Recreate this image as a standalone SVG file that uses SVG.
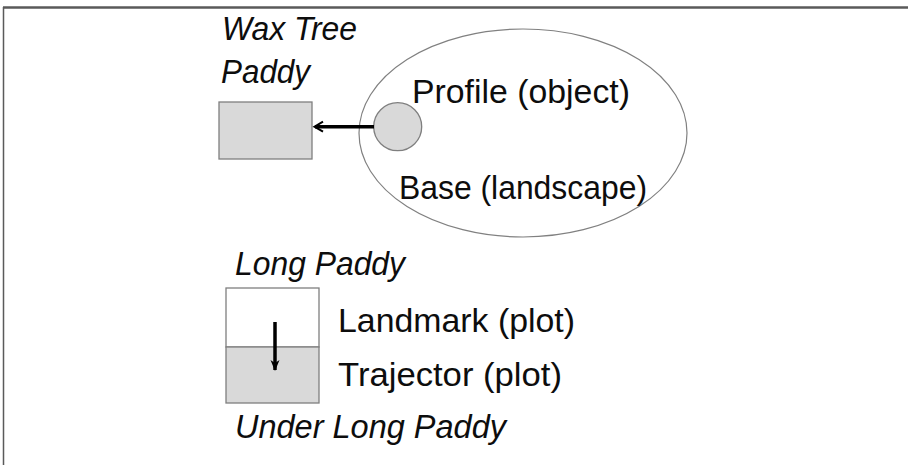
<svg xmlns="http://www.w3.org/2000/svg" width="908" height="465" viewBox="0 0 908 465">
<style>
.t{font-family:"Liberation Sans",Arial,sans-serif;font-size:34px;fill:#0d0d0d}
.i{font-style:italic;font-size:33px}
.box{fill:#d9d9d9;stroke:#7f7f7f;stroke-width:1.3}
.frame{stroke:#5a5a5a;fill:none}
.conn{stroke:#000;stroke-width:3.5;fill:none}
</style>
<defs>
<marker id="open" markerWidth="14" markerHeight="14" refX="11" refY="7" orient="auto" markerUnits="userSpaceOnUse">
<path d="M3,2 L11.5,7 L3,12" fill="none" stroke="#000" stroke-width="2"/>
</marker>
<marker id="down" markerWidth="14" markerHeight="14" refX="11" refY="7" orient="auto" markerUnits="userSpaceOnUse">
<path d="M1,2.5 L12,7 L1,11.5 L4,7 Z" fill="#000"/>
</marker>
</defs>
<rect width="908" height="465" fill="#fff"/>
<g id="frame">
<line class="frame" x1="3" y1="7.5" x2="908" y2="7.5" stroke-width="2.5"/>
<line class="frame" x1="3.5" y1="7" x2="3.5" y2="465" stroke-width="1.5"/>
</g>
<g id="wax-tree-paddy">
<text class="t i" x="222" y="40" textLength="135" lengthAdjust="spacingAndGlyphs">Wax Tree</text>
<text class="t i" x="221" y="83" textLength="89" lengthAdjust="spacingAndGlyphs">Paddy</text>
<rect class="box" x="219" y="102" width="93" height="57"/>
</g>
<g id="landscape">
<ellipse cx="523" cy="133" rx="164" ry="104" fill="none" stroke="#808080" stroke-width="1.2"/>
<text class="t" x="412" y="103" textLength="218" lengthAdjust="spacingAndGlyphs">Profile (object)</text>
<text class="t" x="399" y="199" textLength="248" lengthAdjust="spacingAndGlyphs">Base (landscape)</text>
</g>
<g id="profile">
<circle class="box" cx="397.7" cy="126.7" r="24"/>
</g>
<g id="long-paddy">
<text class="t i" x="235" y="275" textLength="170" lengthAdjust="spacingAndGlyphs">Long Paddy</text>
<rect x="226" y="288" width="93" height="59" fill="#fff" stroke="#7f7f7f" stroke-width="1.3"/>
<text class="t" x="338" y="332" textLength="237" lengthAdjust="spacingAndGlyphs">Landmark (plot)</text>
</g>
<g id="under-long-paddy">
<rect class="box" x="226" y="347" width="93" height="56"/>
<text class="t" x="338" y="386" textLength="224" lengthAdjust="spacingAndGlyphs">Trajector (plot)</text>
<text class="t i" x="235" y="438" textLength="271" lengthAdjust="spacingAndGlyphs">Under Long Paddy</text>
</g>
<g id="connectors">
<line class="conn" x1="374" y1="126.7" x2="315" y2="126.7" marker-end="url(#open)"/>
<line class="conn" x1="275" y1="322" x2="275" y2="370" marker-end="url(#down)"/>
</g>
</svg>
